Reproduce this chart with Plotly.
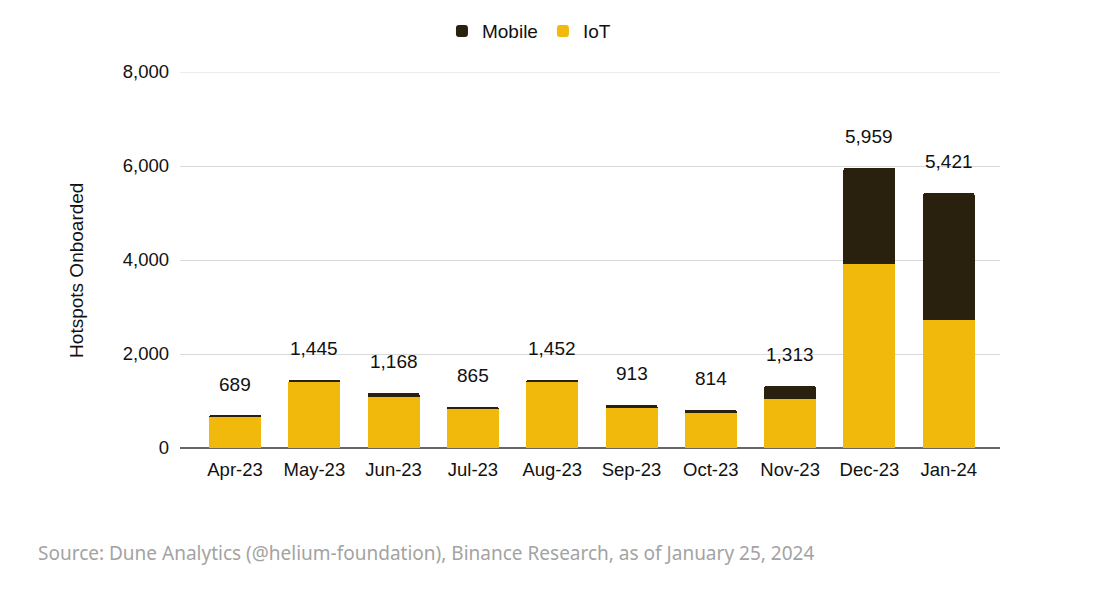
import plotly.graph_objects as go

months = ["Apr-23", "May-23", "Jun-23", "Jul-23", "Aug-23", "Sep-23", "Oct-23", "Nov-23", "Dec-23", "Jan-24"]
totals = [689, 1445, 1168, 865, 1452, 913, 814, 1313, 5959, 5421]
iot = [669, 1400, 1088, 840, 1407, 858, 744, 1036, 3915, 2720]
mobile = [t - i for t, i in zip(totals, iot)]
y_ticks = [0, 2000, 4000, 6000, 8000]

FONT = "Liberation Sans, Arial, sans-serif"

fig = go.Figure()
fig.add_trace(go.Bar(x=months, y=iot, name="IoT", marker=dict(color="#f0b90b", line=dict(width=0))))
fig.add_trace(go.Bar(x=months, y=mobile, name="Mobile", marker=dict(color="#2a200e", line=dict(width=0))))

for m, t in zip(months, totals):
    fig.add_annotation(x=m, y=t, text=f"{t:,}", showarrow=False, yanchor="bottom", yshift=19,
                       font=dict(family=FONT, size=19, color="#111111"))

fig.add_annotation(xref="paper", yref="paper", x=-0.1256, y=0.471, xanchor="center", yanchor="middle",
                   text="Hotspots Onboarded", textangle=-90, showarrow=False,
                   font=dict(family=FONT, size=19, color="#111111"))

fig.add_annotation(xref="paper", yref="paper", x=-0.1756, y=-0.279, xanchor="left", yanchor="middle",
                   text="Source: Dune Analytics (@helium-foundation), Binance Research, as of January 25, 2024",
                   showarrow=False, font=dict(family="Noto Sans, Open Sans, sans-serif", size=19, color="#a3a3a3"))

# top gridline (plotly omits the gridline at the very edge of the range)
fig.add_shape(type="line", xref="paper", yref="y", x0=0, x1=1, y0=max(y_ticks), y1=max(y_ticks),
              line=dict(color="#d9d9d9", width=1), layer="below")

fig.update_layout(
    width=1086, height=578,
    barmode="stack", bargap=0.344, barcornerradius=2,
    plot_bgcolor="white", paper_bgcolor="white",
    margin=dict(l=172, r=94, t=64, b=138),
    font=dict(family=FONT, size=18, color="#111111"),
    showlegend=True,
    legend=dict(orientation="h", traceorder="reversed", xref="container", yref="container",
                x=0.3996, xanchor="left", y=0.960, yanchor="middle",
                font=dict(family=FONT, size=19), itemwidth=30),
    xaxis=dict(showgrid=False, ticks="", tickfont=dict(size=18.5), showline=False,
               range=[-0.694, 9.647], ticklabelstandoff=8),
    yaxis=dict(range=[0, 8000], tickvals=y_ticks, tickformat=",", gridcolor="#d9d9d9",
               zeroline=True, zerolinecolor="#666666", zerolinewidth=1.5,
               tickfont=dict(size=18.5), ticklabelstandoff=10),
)

fig.write_html("out.html")
